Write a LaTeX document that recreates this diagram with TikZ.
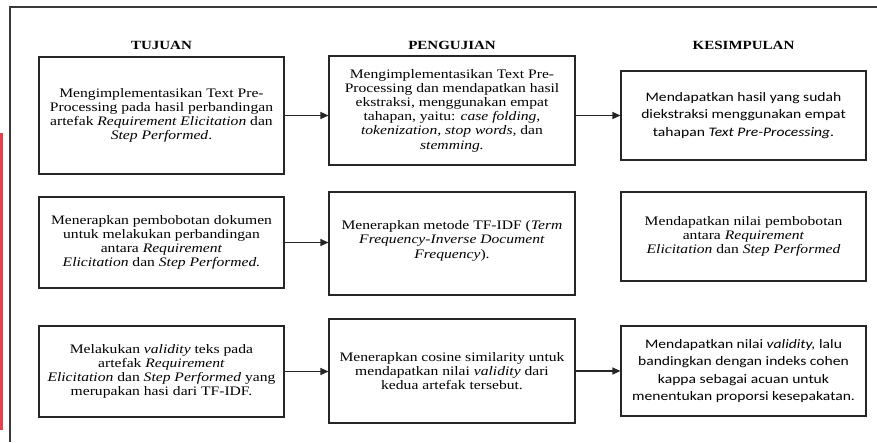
\documentclass[tikz,border=0pt]{standalone}
\usepackage{fontspec}
\setmainfont{Liberation Serif}[FakeStretch=1.2,
  UprightFont={Liberation Serif},
  BoldFont={Liberation Serif Bold},
  ItalicFont={Liberation Serif Italic},
  BoldItalicFont={Liberation Serif Bold Italic}]
\newfontfamily\calfont{Carlito}[FakeStretch=1.2]
\usetikzlibrary{arrows.meta}
\definecolor{framegray}{HTML}{3A3A3A}
\definecolor{barred}{HTML}{E8404A}
\tikzset{
  box/.style={draw=black!85, line width=1.1pt, inner sep=0pt, align=center,
    minimum width=245pt, font=\fontsize{13}{14.2}\selectfont},
  calbox/.style={box, font=\calfont\fontsize{13}{17.5}\selectfont},
  head/.style={font=\bfseries\fontsize{12.5}{14}\selectfont},
  arr/.style={line width=1.1pt, draw=black!85, -{Triangle[length=8pt,width=7pt]}}
}
\begin{document}
\begin{tikzpicture}[x=1pt,y=-1pt]
\useasboundingbox (0,0) rectangle (877,442);
% frame and red bar
\fill[barred] (0,133) rectangle (3,430);
\draw[framegray, line width=1.3pt] (10,442) -- (10,7) -- (877,7);
% headers
\node[head] (h1) at (161.5,45) {TUJUAN};
\node[head] (h2) at (452,45) {PENGUJIAN};
\node[head] (h3) at (743.5,45) {KESIMPULAN};
% row 1
\node[box, minimum height=117pt] (A1) at (161.5,115.5) {Mengimplementasikan Text Pre-\\Processing pada hasil perbandingan\\artefak \textit{Requirement Elicitation} dan\\\textit{Step Performed}.};
\node[box, minimum width=246pt, minimum height=109pt] (B1) at (452,110.5) {Mengimplementasikan Text Pre-\\Processing dan mendapatkan hasil\\ekstraksi, menggunakan empat\\tahapan, yaitu: \textit{case folding,}\\\textit{tokenization, stop words,} dan\\\textit{stemming.}};
\node[calbox, minimum height=89pt] (C1) at (743.5,115.5) {Mendapatkan hasil yang sudah\\diekstraksi menggunakan empat\\tahapan \textit{Text Pre-Processing}.};
% row 2
\node[box, minimum height=91pt] (A2) at (161.5,242.5) {Menerapkan pembobotan dokumen\\untuk melakukan perbandingan\\antara \textit{Requirement}\\\textit{Elicitation} dan \textit{Step Performed.}};
\node[box, minimum width=246pt, minimum height=103pt] (B2) at (452,243.5) {Menerapkan metode TF-IDF (\textit{Term}\\\textit{Frequency-Inverse Document}\\\textit{Frequency}).\\[-6pt]\mbox{}};
\node[box, minimum height=89pt] (C2) at (743.5,236.5) {Mendapatkan nilai pembobotan\\antara \textit{Requirement}\\\textit{Elicitation} dan \textit{Step Performed}};
% row 3
\node[box, minimum height=91pt] (A3) at (161.5,371.5) {Melakukan \textit{validity} teks pada\\artefak \textit{Requirement}\\\textit{Elicitation} dan \textit{Step Performed} yang\\merupakan hasi dari TF-IDF.};
\node[box, minimum width=246pt, minimum height=104pt] (B3) at (452,371) {Menerapkan cosine similarity untuk\\mendapatkan nilai \textit{validity} dari\\kedua artefak tersebut.};
\node[calbox, minimum height=90pt] (C3) at (743.5,371) {Mendapatkan nilai \textit{validity,} lalu\\bandingkan dengan indeks cohen\\kappa sebagai acuan untuk\\menentukan proporsi kesepakatan.};
% connectors
\draw[arr] (A1.east) -- (A1.east -| B1.west);
\draw[arr] (B1.east |- C1.west) -- (C1.west);
\draw[arr] (A2.east) -- (A2.east -| B2.west);
\draw[arr] (A3.east) -- (A3.east -| B3.west);
\draw[arr] (B3.east) -- (B3.east -| C3.west);
\end{tikzpicture}
\end{document}
